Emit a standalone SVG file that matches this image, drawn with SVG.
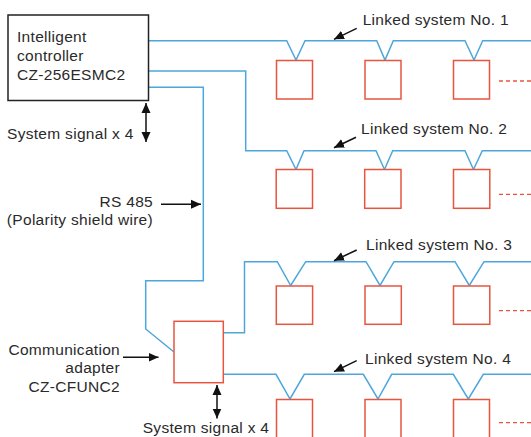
<svg xmlns="http://www.w3.org/2000/svg" width="531" height="437" viewBox="0 0 531 437">
<style>
  text { font-family: "Liberation Sans", Arial, sans-serif; font-size: 15.5px; letter-spacing: 0.3px; fill: #2a2a2a; }
  .end { text-anchor: end; }
  .wire { fill: none; stroke: #4ea6dc; stroke-width: 1.5; stroke-linejoin: miter; }
  .unit { fill: #fff; stroke: #e8553f; stroke-width: 1.5; }
  .dots { stroke: #e8553f; stroke-width: 1.3; stroke-dasharray: 4 3; }
  .arr { stroke: #111; stroke-width: 1.5; fill: none; marker-end: url(#ah); }
  .darr { stroke: #111; stroke-width: 1.5; fill: none; marker-end: url(#ah); marker-start: url(#ah); }
</style>
<defs>
  <marker id="ah" markerUnits="userSpaceOnUse" markerWidth="10" markerHeight="10" viewBox="0 0 10 10" refX="10" refY="5" orient="auto-start-reverse">
    <path d="M0,0.5 L10,5 L0,9.5 z" fill="#111"/>
  </marker>
</defs>
<rect width="531" height="437" fill="#fff"/>

<g id="connectors">
  <path class="wire" d="M148,40.7 H286.7 L296,60 L305,40.7 H376.7 L385,60 L393.3,40.7 H465 L474,60 L482.7,40.7 H531"/>
  <path class="wire" d="M148,71 H245.7 V150.7 H286.7 L296,169.5 L304,150.7 H376 L384.5,169.5 L392.7,150.7 H465 L473.5,169.5 L482.3,150.7 H531"/>
  <path class="wire" d="M148,87.3 H203.3 V280.7 H145.7 V329 L174,352"/>
  <path class="wire" d="M223.3,332.7 H244.5 V261.7 H277.3 L290.7,285.5 L305.7,261.7 H366 L380,285.5 L394,261.7 H455 L469.3,285.5 L484,261.7 H531"/>
  <path class="wire" d="M223.3,374.3 H276 L290,399 L304.3,374.3 H363.3 L378,399 L391.7,374.3 H453.3 L468.3,399 L483.3,374.3 H531"/>
  <line class="dots" x1="499" y1="81" x2="531" y2="81"/>
  <line class="dots" x1="499" y1="194.3" x2="531" y2="194.3"/>
  <line class="dots" x1="499" y1="310.7" x2="531" y2="310.7"/>
  <line class="dots" x1="499" y1="422.7" x2="531" y2="422.7"/>
  <line class="darr" x1="146" y1="103" x2="146" y2="142"/>
  <line class="darr" x1="217" y1="385" x2="217" y2="418.5"/>
  <line class="arr" x1="161" y1="204.3" x2="201" y2="204.3"/>
  <line class="arr" x1="123" y1="357.3" x2="158.5" y2="357.3"/>
  <line class="arr" x1="356.7" y1="28.3" x2="334" y2="39.3"/>
  <line class="arr" x1="356" y1="137.3" x2="334" y2="147.7"/>
  <line class="arr" x1="356.7" y1="250" x2="334" y2="260.7"/>
  <line class="arr" x1="356.7" y1="360.7" x2="334" y2="371.7"/>
</g>

<g id="controller">
  <rect x="8" y="15" width="140.5" height="85.5" fill="#fff" stroke="#222" stroke-width="1.5"/>
  <text x="17" y="41.7">Intelligent</text>
  <text x="17" y="61">controller</text>
  <text x="17" y="79.5">CZ-256ESMC2</text>
</g>
<g id="controller-signal-label"><text x="7" y="139">System signal x 4</text></g>
<g id="rs485-label">
  <text class="end" x="153" y="206.7">RS 485</text>
  <text class="end" x="153" y="225">(Polarity shield wire)</text>
</g>
<g id="adapter">
  <rect class="unit" x="174" y="321.3" width="49.3" height="61.4"/>
</g>
<g id="adapter-label">
  <text class="end" x="120" y="355">Communication</text>
  <text class="end" x="120" y="373.3">adapter</text>
  <text class="end" x="120" y="391.7">CZ-CFUNC2</text>
</g>
<g id="adapter-signal-label"><text x="142.7" y="433.3">System signal x 4</text></g>

<g id="system1">
  <text x="362.7" y="25">Linked system No. 1</text>
  <rect class="unit" x="276.5" y="60.5" width="36" height="38.5"/>
  <rect class="unit" x="365" y="60.5" width="36" height="38.5"/>
  <rect class="unit" x="453.5" y="60.5" width="36" height="38.5"/>
</g>
<g id="system2">
  <text x="361" y="134">Linked system No. 2</text>
  <rect class="unit" x="276.2" y="169.5" width="36.3" height="38.8"/>
  <rect class="unit" x="364.7" y="169.5" width="36.3" height="38.8"/>
  <rect class="unit" x="453.5" y="169.5" width="36.3" height="38.8"/>
</g>
<g id="system3">
  <text x="366" y="250">Linked system No. 3</text>
  <rect class="unit" x="276.3" y="286" width="36.3" height="38.3"/>
  <rect class="unit" x="365" y="286" width="36.3" height="38.3"/>
  <rect class="unit" x="453.5" y="286" width="36.3" height="38.3"/>
</g>
<g id="system4">
  <text x="365" y="364">Linked system No. 4</text>
  <rect class="unit" x="276.5" y="399.5" width="36" height="40"/>
  <rect class="unit" x="365" y="399.5" width="36" height="40"/>
  <rect class="unit" x="453.5" y="399.5" width="36" height="40"/>
</g>
</svg>
